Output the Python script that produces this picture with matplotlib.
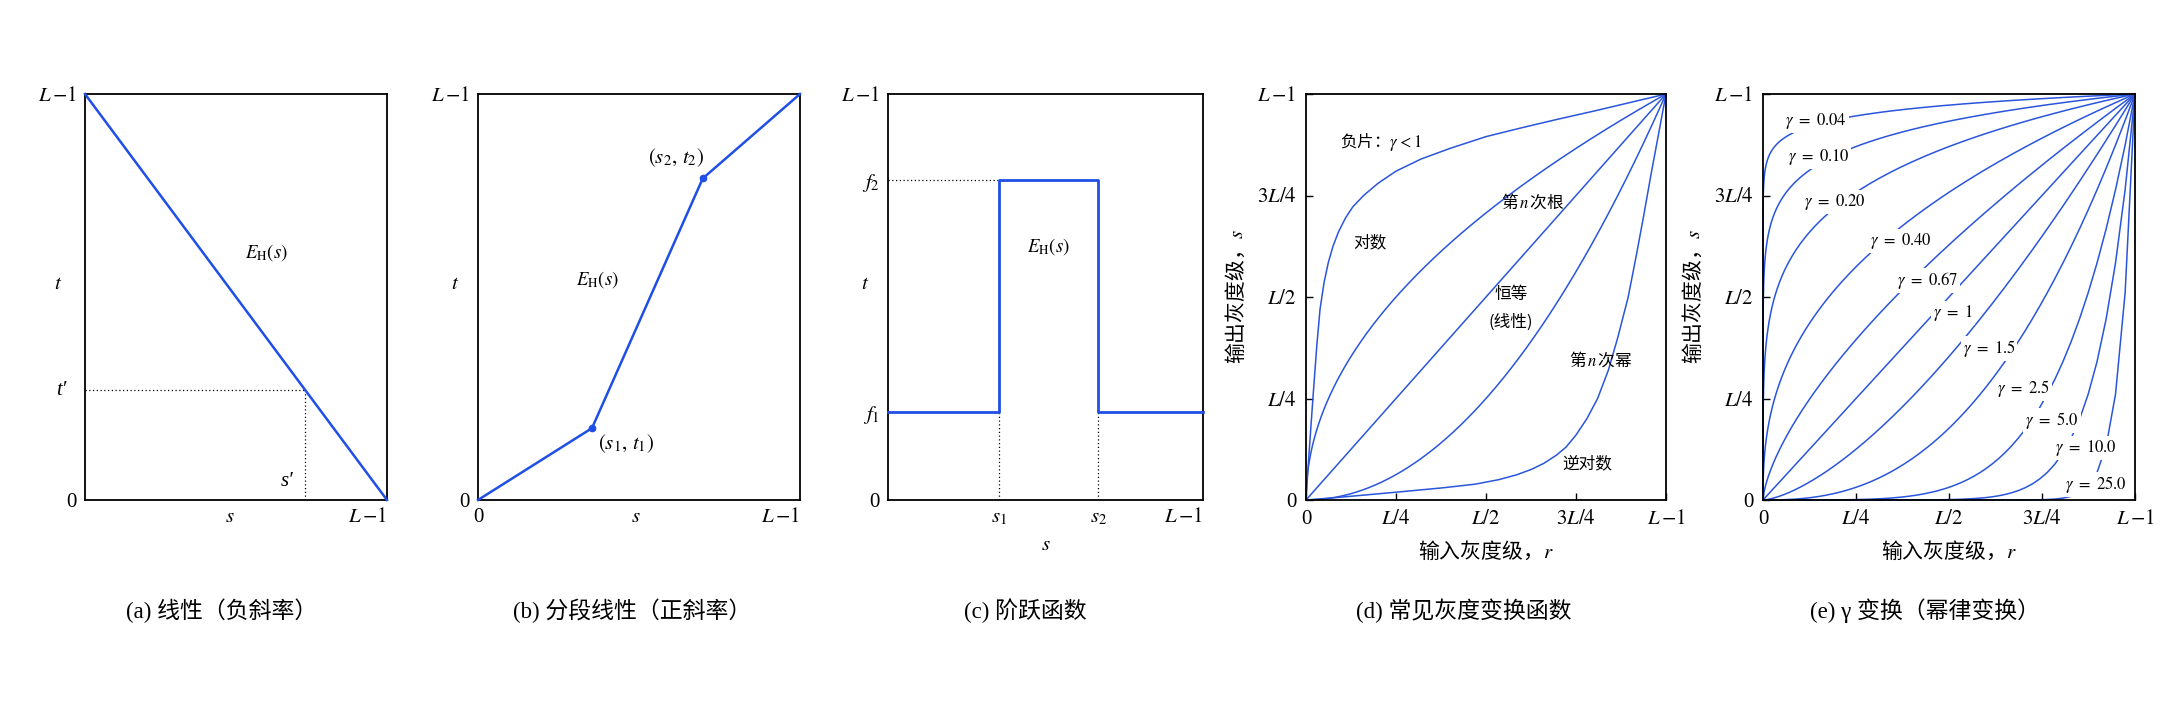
import numpy as np
import matplotlib.pyplot as plt

plt.rcParams['font.family'] = ['Liberation Serif', 'Noto Sans CJK SC']
plt.rcParams['mathtext.fontset'] = 'stix'
plt.rcParams['axes.linewidth'] = 1.3

CJK = 'Noto Sans CJK SC'
BLUE = '#1f4fe6'
BLUE2 = '#2a55dc'

# (a) linear, negative slope
a_s = [0, 1]
a_t = [1, 0]
a_s_prime, a_t_prime = 0.73, 0.27

# (b) piecewise linear
b_s = [0, 0.354, 0.698, 1]
b_t = [0, 0.177, 0.792, 1]

# (c) step
c_s1, c_s2 = 0.351, 0.668
c_f1, c_f2 = 0.216, 0.788

# (d) common transforms
d_root_exp = 0.5
d_power_exp = 2.0
log_r = [0, 0.005, 0.012, 0.02, 0.03, 0.039, 0.05, 0.062, 0.075, 0.09, 0.11,
         0.13, 0.16, 0.2, 0.25, 0.32, 0.4, 0.5, 0.6, 0.7, 0.8, 0.9, 1.0]
log_s = [0, 0.07, 0.16, 0.26, 0.38, 0.47, 0.535, 0.585, 0.625, 0.66, 0.695,
         0.722, 0.75, 0.78, 0.81, 0.84, 0.866, 0.895, 0.917, 0.938, 0.958, 0.979, 1.0]

# (e) gamma curves
gammas = [0.04, 0.10, 0.20, 0.40, 0.67, 1, 1.5, 2.5, 5.0, 10.0, 25.0]
gamma_names = ['0.04', '0.10', '0.20', '0.40', '0.67', '1', '1.5', '2.5', '5.0', '10.0', '25.0']
gamma_label_pos = [(0.060, 0.933), (0.066, 0.844), (0.109, 0.735), (0.288, 0.637),
                   (0.360, 0.541), (0.458, 0.460), (0.537, 0.374), (0.630, 0.274),
                   (0.705, 0.195), (0.785, 0.127), (0.812, 0.039)]

captions = ['(a) 线性（负斜率）', '(b) 分段线性（正斜率）', '(c) 阶跃函数',
            '(d) 常见灰度变换函数', '(e) γ 变换（幂律变换）']
caption_x = [222, 632, 1025, 1464, 1925]

LM1 = r'$L\,{-}1$'

W, H = 2172, 724
fig = plt.figure(figsize=(W / 100, H / 100), dpi=100)


def make_ax(left, right, top=94, bottom=500):
    return fig.add_axes([left / W, 1 - bottom / H, (right - left) / W, (bottom - top) / H])


ax_a = make_ax(85, 387)
ax_b = make_ax(478, 800)
ax_c = make_ax(888, 1203)
ax_d = make_ax(1306, 1666)
ax_e = make_ax(1763, 2135)

TICK_FS = 15
EH_FS = 13.5
for ax in (ax_a, ax_b, ax_c, ax_d, ax_e):
    ax.set_xlim(0, 1)
    ax.set_ylim(0, 1)
    ax.tick_params(labelsize=TICK_FS, pad=6)
for ax in (ax_a, ax_b, ax_c):
    ax.tick_params(length=0)

dotted = dict(color='k', lw=0.9, ls=(0, (1, 2)))


def side_label(ax, x_px, y, text, **kw):
    # label to the left of the y axis, centred x_px pixels from the spine
    width = ax.get_position().width * W
    ax.text(-x_px / width, y, text, transform=ax.get_yaxis_transform(),
            fontsize=TICK_FS, ha='center', va='center', **kw)


# ---- (a)
ax_a.plot(a_s, a_t, color=BLUE, lw=1.8, clip_on=False, zorder=3)
ax_a.plot([0, a_s_prime], [a_t_prime, a_t_prime], **dotted)
ax_a.plot([a_s_prime, a_s_prime], [0, a_t_prime], **dotted)
ax_a.set_xticks([0.48, 1], ['$s$', LM1])
ax_a.get_xticklabels()[-1].set_ha('right')
ax_a.set_yticks([0, 1], ['0', LM1])
side_label(ax_a, 27, 0.53, '$t$')
side_label(ax_a, 24, a_t_prime, 't′', fontstyle='italic')
ax_a.text(0.67, 0.045, 's′', fontsize=TICK_FS, fontstyle='italic', ha='center', va='center')
ax_a.text(0.6, 0.61, r'$E_\mathrm{H}(s)$', fontsize=EH_FS, ha='center', va='center')

# ---- (b)
ax_b.plot(b_s, b_t, color=BLUE, lw=1.8, clip_on=False, zorder=3)
ax_b.plot(b_s[1:3], b_t[1:3], 'o', color=BLUE, ms=4.5, zorder=4)
ax_b.set_xticks([0, 0.49, 1], ['0', '$s$', LM1])
ax_b.get_xticklabels()[-1].set_ha('right')
ax_b.set_yticks([0, 1], ['0', LM1])
side_label(ax_b, 23, 0.53, '$t$')
ax_b.text(0.372, 0.542, r'$E_\mathrm{H}(s)$', fontsize=EH_FS, ha='center', va='center')
ax_b.text(0.614, 0.842, '$(s_2,\\, t_2)$', fontsize=TICK_FS, ha='center', va='center')
ax_b.text(0.461, 0.14, '$(s_1,\\, t_1)$', fontsize=TICK_FS, ha='center', va='center')

# ---- (c)
c_x = [0, c_s1, c_s1, c_s2, c_s2, 1]
c_y = [c_f1, c_f1, c_f2, c_f2, c_f1, c_f1]
ax_c.plot(c_x, c_y, color=BLUE, lw=2.0, clip_on=False, zorder=3)
ax_c.plot([0, c_s1], [c_f2, c_f2], **dotted)
ax_c.plot([c_s1, c_s1], [0, c_f1], **dotted)
ax_c.plot([c_s2, c_s2], [0, c_f1], **dotted)
ax_c.set_xticks([c_s1, c_s2, 1], ['$s_1$', '$s_2$', LM1])
ax_c.get_xticklabels()[-1].set_ha('right')
ax_c.set_yticks([0, c_f1, c_f2, 1], ['0', '$f_1$', '$f_2$', LM1])
side_label(ax_c, 23, 0.53, '$t$')
ax_c.set_xlabel('$s$', fontsize=TICK_FS, labelpad=6)
ax_c.text(0.51, 0.624, r'$E_\mathrm{H}(s)$', fontsize=EH_FS, ha='center', va='center')

# ---- (d)
r = np.linspace(0, 1, 400)
ax_d.plot(log_r, log_s, color=BLUE2, lw=1.1, clip_on=False)
ax_d.plot(log_s, log_r, color=BLUE2, lw=1.1, clip_on=False)
ax_d.plot(r, r ** d_root_exp, color=BLUE2, lw=1.1, clip_on=False)
ax_d.plot(r, r ** d_power_exp, color=BLUE2, lw=1.1, clip_on=False)
ax_d.plot(r, r, color=BLUE2, lw=1.1, clip_on=False)
lab_fs = 12
ax_d.text(0.094, 0.883, '负片：$\\gamma<1$', family=CJK, fontsize=lab_fs, ha='left', va='center')
ax_d.text(0.178, 0.633, '对数', family=CJK, fontsize=lab_fs, ha='center', va='center')
ax_d.text(0.629, 0.735, '第$\\,n\\,$次根', family=CJK, fontsize=lab_fs, ha='center', va='center')
ax_d.text(0.569, 0.505, '恒等', family=CJK, fontsize=lab_fs, ha='center', va='center')
ax_d.text(0.569, 0.439, '(线性)', family=CJK, fontsize=lab_fs, ha='center', va='center')
ax_d.text(0.82, 0.345, '第$\\,n\\,$次幂', family=CJK, fontsize=lab_fs, ha='center', va='center')
ax_d.text(0.78, 0.09, '逆对数', family=CJK, fontsize=lab_fs, ha='center', va='center')

# ---- (e)
re = np.concatenate([[0], np.geomspace(1e-7, 1, 600)])
for g in gammas:
    ax_e.plot(re, re ** g, color=BLUE2, lw=1.1, clip_on=False, zorder=2)
for name, (x, y) in zip(gamma_names, gamma_label_pos):
    ax_e.text(x, y, '$\\gamma\\ =\\ ' + name + '$', fontsize=12, ha='left', va='center', zorder=5,
              bbox=dict(boxstyle='square,pad=0.12', fc='white', ec='none'))

tick_pos = [0, 0.25, 0.5, 0.75, 1]
tick_lab = ['0', '$L/4$', '$L/2$', '$3L/4$', LM1]
for ax in (ax_d, ax_e):
    ax.set_xticks(tick_pos, tick_lab)
    ax.set_yticks(tick_pos, tick_lab)
    ax.tick_params(direction='in', length=5, width=1, pad=7)
    ax.set_xlabel('输入灰度级，$r$', family=CJK, fontsize=15, labelpad=8)
    ax.set_ylabel('输出灰度级，$s$', family=CJK, fontsize=15, labelpad=6)

for text, x in zip(captions, caption_x):
    fig.text(x / W, 1 - 611 / H, text, fontsize=16.5, ha='center', va='center')

fig.savefig('out.png', dpi=100, facecolor='white')
